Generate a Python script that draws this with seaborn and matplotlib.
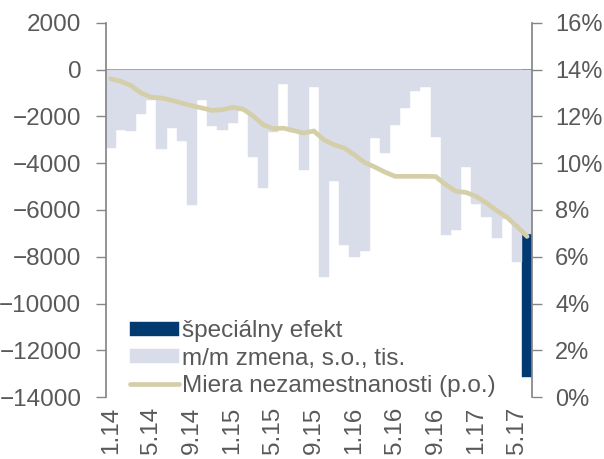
import numpy as np
import pandas as pd
import matplotlib
matplotlib.use("Agg")
import matplotlib.pyplot as plt
import matplotlib.ticker as mtick
import seaborn as sns

# monthly data, 1.14 - 6.17
months = [f"{m}.{y}" for y in (14, 15, 16, 17) for m in range(1, 13)][:42]
mm_change = [-3350, -2580, -2640, -1880, -1290, -3380, -2500, -3070, -5780, -1290,
             -2410, -2580, -2300, -1750, -3750, -5040, -2680, -600, -2650, -4270,
             -740, -8880, -4780, -7500, -8000, -7740, -2930, -3580, -2380, -1640,
             -900, -740, -2870, -7070, -6850, -4150, -5750, -6300, -7180, -6400,
             -8240, -7040]
special = [0] * 41 + [-6100]
unemployment = [13.61, 13.50, 13.32, 13.00, 12.82, 12.79, 12.69, 12.57, 12.46, 12.36,
                12.26, 12.29, 12.39, 12.32, 12.03, 11.65, 11.48, 11.50, 11.40, 11.29,
                11.38, 11.00, 10.79, 10.65, 10.36, 10.03, 9.84, 9.62, 9.44, 9.44,
                9.44, 9.44, 9.43, 9.08, 8.80, 8.75, 8.58, 8.30, 7.98, 7.70,
                7.30, 6.87]
label_months = ["1.14", "5.14", "9.14", "1.15", "5.15", "9.15",
                "1.16", "5.16", "9.16", "1.17", "5.17"]

df = pd.DataFrame({"month": months, "mm": mm_change, "special": special,
                   "rate": np.array(unemployment) / 100})
df["pos"] = np.arange(len(df))
# stacked: special effect sits below the m/m bar
df["total_special"] = np.where(df["special"] != 0, df["mm"] + df["special"], np.nan)

navy = "#003A70"
lavender = "#D9DDEA"
khaki = "#D5CFA9"
grey = "#868686"
text_c = "#595959"
fs = 17.5

sns.set_theme(style="white")
plt.rcParams["font.family"] = ["Liberation Sans", "DejaVu Sans"]
plt.rcParams["font.size"] = fs

fig = plt.figure(figsize=(6.04, 4.59), dpi=100)
ax = fig.add_axes([0.175, 0.135, 0.706, 0.815])

sns.barplot(data=df, x="month", y="total_special", color=navy, width=1.0,
            saturation=1, ax=ax, order=months, label="špeciálny efekt",
            edgecolor=navy, linewidth=0.3)
sns.barplot(data=df, x="month", y="mm", color=lavender, width=1.0,
            saturation=1, ax=ax, order=months, label="m/m zmena, s.o., tis.",
            edgecolor=lavender, linewidth=0.3)

ax.set_xlim(-0.5, len(months) - 0.5)
ax.set_ylim(-14000, 2000)
ax.set_yticks(np.arange(-14000, 2001, 2000))
ax.set_xticks([months.index(m) for m in label_months])
ax.set_xticklabels(label_months, rotation=90)
ax.set_xlabel("")
ax.set_ylabel("")
ax.tick_params(axis="x", length=0, pad=7, colors=text_c, labelsize=fs)
ax.tick_params(axis="y", direction="out", length=7, width=1, color=grey,
               labelcolor=text_c, pad=10.5, labelsize=fs, left=True)
for s in ("top", "bottom", "right"):
    ax.spines[s].set_visible(False)
ax.spines["left"].set_color(grey)

# zero line with tick marks between month groups
zero_frac = (0 - (-14000)) / 16000
sec = ax.secondary_xaxis(zero_frac)
sec.set_xticks(np.arange(3.5, len(months) - 1, 4))
sec.set_xticklabels([])
sec.tick_params(direction="in", length=7, width=1, color=grey)
sec.spines["top"].set_color(grey)
sec.spines["top"].set_linewidth(1.2)

ax2 = ax.twinx()
sns.lineplot(data=df, x="pos", y="rate", color=khaki, linewidth=3.4,
             ax=ax2, sort=False, label="Miera nezamestnanosti (p.o.)",
             solid_capstyle="round", solid_joinstyle="round")
ax2.set_ylim(0, 0.16)
ax2.set_yticks(np.arange(0, 0.161, 0.02))
ax2.yaxis.set_major_formatter(mtick.PercentFormatter(1.0, decimals=0))
ax2.set_ylabel("")
ax2.set_xlabel("")
ax2.tick_params(axis="y", direction="out", length=7, width=1, color=grey,
                labelcolor=text_c, pad=9.5, labelsize=17, right=True)
for s in ("top", "bottom", "left"):
    ax2.spines[s].set_visible(False)
ax2.spines["right"].set_color(grey)
ax2.set_xlim(-0.5, len(months) - 0.5)

h1, l1 = ax.get_legend_handles_labels()
h2, l2 = ax2.get_legend_handles_labels()
if ax.get_legend():
    ax.get_legend().remove()
leg = ax2.legend(h1 + h2, l1 + l2, loc="lower left", bbox_to_anchor=(0.057, 0.0),
                 frameon=False, fontsize=fs, handlelength=2.0, handleheight=0.5,
                 handletextpad=0.15, labelspacing=0.22, borderpad=0, borderaxespad=0)
for t in leg.get_texts():
    t.set_color(text_c)

fig.savefig("out.png", dpi=100)
